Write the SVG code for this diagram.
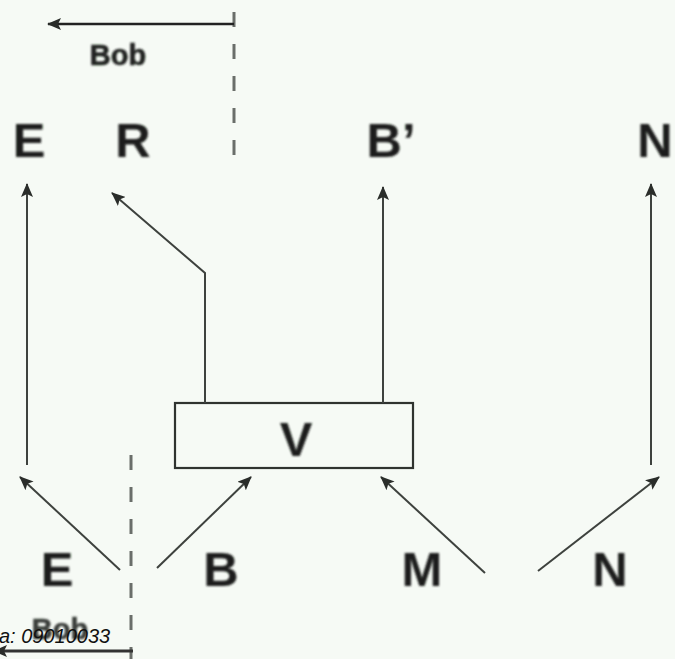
<svg xmlns="http://www.w3.org/2000/svg" width="675" height="659" viewBox="0 0 675 659">
  <style>
    .lbl { font-family: "Liberation Sans", Arial, sans-serif; font-weight: bold; font-size: 49px; fill: #1a1d1a; text-anchor: middle; }
    .bob { font-family: "Liberation Sans", Arial, sans-serif; font-weight: bold; font-size: 29px; fill: #202320; text-anchor: middle; stroke: #202320; stroke-width: 0.6; }
    .edge { fill: none; stroke: #3e423e; stroke-width: 2; }
    .dash { fill: none; stroke: #6a6e6a; stroke-width: 3; stroke-dasharray: 15 17; }
    .box { fill: none; stroke: #2f332f; stroke-width: 2.2; }
    .note { font-family: "Liberation Sans", Arial, sans-serif; font-style: italic; font-size: 20px; fill: #111; }
  </style>
  <defs>
    <marker id="head" markerUnits="userSpaceOnUse" markerWidth="14" markerHeight="12" viewBox="0 0 14 12" refX="13" refY="6" orient="auto">
      <path d="M0,0 L14,6 L0,12 L3,6 Z" fill="#2a2d2a"/>
    </marker>
    <filter id="soft" x="-10%" y="-10%" width="120%" height="120%">
      <feGaussianBlur stdDeviation="0.9"/>
    </filter>
  </defs>

  <rect width="675" height="659" fill="#f6faf5"/>

  <!-- Bob boundaries: dashed dividers and direction arrows -->
  <g id="bob-top">
    <path class="dash" d="M234,12 V168"/>
    <path class="edge" style="stroke:#222;stroke-width:2.5" d="M234,24 H48" marker-end="url(#head)"/>
    <text class="bob" x="118" y="65" filter="url(#soft)">Bob</text>
  </g>
  <g id="bob-bottom">
    <path class="dash" d="M131,455 V659"/>
    <text class="bob" x="60" y="639" style="fill:#3a3d3a;stroke:#3a3d3a" filter="url(#soft)">Bob</text>
    <path class="edge" style="stroke:#333;stroke-width:3" d="M133,651 H-6" marker-end="url(#head)"/>
  </g>

  <!-- Box V -->
  <g id="node-V">
    <rect class="box" x="175" y="403" width="238" height="65"/>
    <text class="lbl" x="296" y="456" filter="url(#soft)">V</text>
  </g>

  <!-- Output labels -->
  <g id="node-E-out"><text class="lbl" x="29" y="157" filter="url(#soft)">E</text></g>
  <g id="node-R"><text class="lbl" x="133" y="157" filter="url(#soft)">R</text></g>
  <g id="node-B-out"><text class="lbl" x="391" y="157" filter="url(#soft)">B’</text></g>
  <g id="node-N-out"><text class="lbl" x="655" y="157" filter="url(#soft)">N</text></g>

  <!-- Input labels -->
  <g id="node-E-in"><text class="lbl" x="57" y="586" filter="url(#soft)">E</text></g>
  <g id="node-B-in"><text class="lbl" x="221" y="586" filter="url(#soft)">B</text></g>
  <g id="node-M"><text class="lbl" x="422" y="586" filter="url(#soft)">M</text></g>
  <g id="node-N-in"><text class="lbl" x="610" y="586" filter="url(#soft)">N</text></g>

  <!-- Connectors -->
  <g id="connectors">
    <path class="edge" d="M27,465 V184" marker-end="url(#head)"/>
    <path class="edge" d="M205,403 V273 L112,193" marker-end="url(#head)"/>
    <path class="edge" d="M383,403 V187" marker-end="url(#head)"/>
    <path class="edge" d="M651,465 V184" marker-end="url(#head)"/>
    <path class="edge" d="M120,570 L20,477" marker-end="url(#head)"/>
    <path class="edge" d="M157,568 L251,477" marker-end="url(#head)"/>
    <path class="edge" d="M485,573 L381,477" marker-end="url(#head)"/>
    <path class="edge" d="M538,571 L659,477" marker-end="url(#head)"/>
  </g>

  <text class="note" x="-1" y="643">a: 09010033</text>
</svg>
